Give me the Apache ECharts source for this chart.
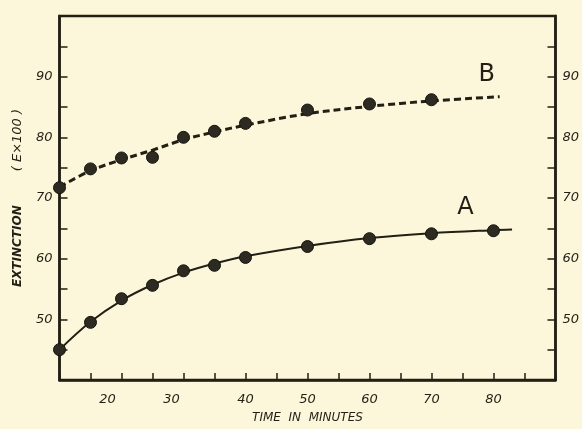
<!DOCTYPE html>
<html>
<head>
<meta charset="utf-8">
<script src="https://cdn.jsdelivr.net/npm/echarts@6/dist/echarts.min.js"></script>
<style>
html,body{margin:0;padding:0;background:#fcf7da;}
#chart{width:582px;height:429px;}
</style>
</head>
<body>
<div id="chart"></div>
<script>
// Measured points
const timeA = [10, 15, 20, 25, 30, 35, 40, 50, 60, 70, 80];
const extA  = [45.0, 49.5, 53.4, 55.6, 58.0, 58.9, 60.2, 62.0, 63.3, 64.1, 64.6];
const timeB = [10, 15, 20, 25, 30, 35, 40, 50, 60, 70];
const extB  = [71.7, 74.8, 76.6, 76.7, 80.0, 81.0, 82.3, 84.5, 85.5, 86.2];
// Drawn curves
const curveTimeA = [10, 15, 20, 25, 30, 35, 40, 50, 60, 70, 80, 83];
const curveA     = [45.0, 49.6, 53.1, 55.7, 57.7, 59.2, 60.4, 62.1, 63.4, 64.2, 64.7, 64.8];
const curveTimeB = [10, 15, 20, 25, 30, 35, 40, 50, 60, 70, 81];
const curveB     = [71.8, 74.5, 76.3, 77.9, 79.6, 80.9, 82.0, 83.9, 85.1, 86.0, 86.7];
// Tick labels
const xTickLabels = [20, 30, 40, 50, 60, 70, 80];
const yTickLabels = [50, 60, 70, 80, 90];
// Curve labels
const curveLabels = [{name: 'A', x: 75.5, y: 68.4}, {name: 'B', x: 78.9, y: 90.3}];

const ink = '#221f15';
const zip = (xs, ys) => xs.map((x, i) => [x, ys[i]]);

const chart = echarts.init(document.getElementById('chart'));
const yLabelFmt = v => yTickLabels.includes(v) ? String(v) : '';
const yAxisBase = {
  type: 'value', min: 40, max: 100, interval: 5,
  axisLine: {show: true, lineStyle: {color: ink, width: 2.5}},
  axisTick: {show: true, inside: true, length: 8, lineStyle: {color: ink, width: 1.5}},
  splitLine: {show: false},
  axisLabel: {formatter: yLabelFmt, color: ink, fontStyle: 'italic', fontSize: 13,
              fontFamily: 'DejaVu Sans', margin: 7}
};
chart.setOption({
  backgroundColor: '#fcf7da',
  animation: false,
  grid: {left: 59.5, right: 25, top: 16, bottom: 40, show: true,
         borderColor: ink, borderWidth: 2.5, backgroundColor: 'transparent'},
  xAxis: {
    type: 'value', min: 10, max: 90, interval: 5,
    name: 'TIME  IN  MINUTES', nameLocation: 'middle', nameGap: 32,
    nameTextStyle: {color: ink, fontStyle: 'italic', fontSize: 12, fontFamily: 'DejaVu Sans'},
    axisLine: {show: true, lineStyle: {color: ink, width: 2.5}},
    axisTick: {show: true, inside: true, length: 7, lineStyle: {color: ink, width: 1.5}},
    splitLine: {show: false},
    axisLabel: {
      color: ink, fontStyle: 'italic', fontSize: 13, fontFamily: 'DejaVu Sans', margin: 13,
      formatter: v => {
        if (!xTickLabels.includes(v)) return '';
        if (v === 20) return '{s20|' + v + '}';
        if (v === 30) return '{s30|' + v + '}';
        return String(v);
      },
      rich: {
        s20: {padding: [0, 28, 0, 0], color: ink, fontStyle: 'italic', fontSize: 13, fontFamily: 'DejaVu Sans'},
        s30: {padding: [0, 24, 0, 0], color: ink, fontStyle: 'italic', fontSize: 13, fontFamily: 'DejaVu Sans'}
      }
    }
  },
  yAxis: [
    Object.assign({}, yAxisBase, {
      position: 'left',
      name: '{a|EXTINCTION}{g|}{b|( E×100 )}',
      nameLocation: 'middle', nameRotate: 90, nameGap: 35,
      nameTextStyle: {
        rich: {
          a: {fontWeight: 'bold', fontStyle: 'italic', fontSize: 12, color: ink, fontFamily: 'DejaVu Sans'},
          g: {width: 34},
          b: {fontStyle: 'italic', fontSize: 13, color: ink, fontFamily: 'DejaVu Sans'}
        }
      }
    }),
    Object.assign({}, yAxisBase, {position: 'right'})
  ],
  series: [
    {
      type: 'line', data: zip(curveTimeA, curveA), smooth: 0.35, showSymbol: false,
      lineStyle: {color: ink, width: 2}, z: 2
    },
    {
      type: 'line', data: zip(curveTimeB, curveB), smooth: 0.35, showSymbol: false,
      lineStyle: {color: ink, width: 3, type: [7, 4]}, z: 2
    },
    {
      type: 'scatter', data: zip(timeA, extA), symbolSize: 12,
      itemStyle: {color: '#2c2a21', borderColor: '#15140e', borderWidth: 1, opacity: 1}, z: 3
    },
    {
      type: 'scatter', data: zip(timeB, extB), symbolSize: 12,
      itemStyle: {color: '#2c2a21', borderColor: '#15140e', borderWidth: 1, opacity: 1}, z: 3
    },
    {
      type: 'scatter', data: curveLabels.map(d => ({name: d.name, value: [d.x, d.y]})),
      symbolSize: 0, itemStyle: {opacity: 1},
      label: {show: true, position: 'inside', formatter: p => p.name, color: ink,
              fontSize: 24, fontFamily: 'DejaVu Sans', fontWeight: 'normal'}
    }
  ]
});
</script>
</body>
</html>
